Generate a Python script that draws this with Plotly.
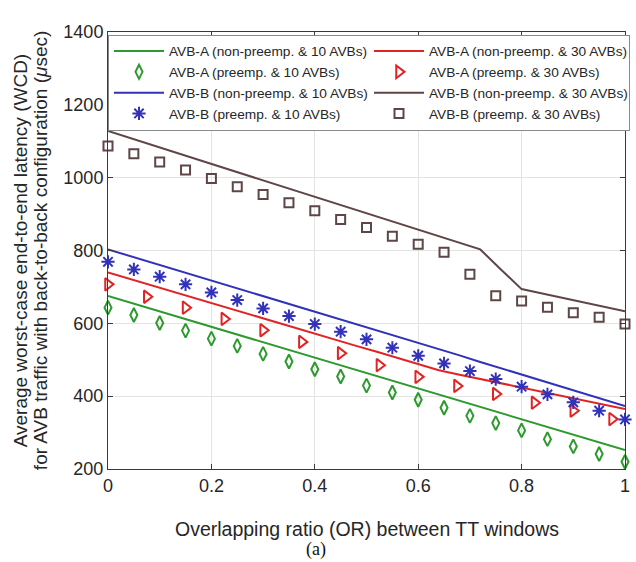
import plotly.graph_objects as go

# ---- data ----
LINE_X = [0.00, 0.04, 0.08, 0.12, 0.16, 0.20, 0.24, 0.28, 0.32, 0.36, 0.40, 0.44, 0.48,
          0.52, 0.56, 0.60, 0.64, 0.68, 0.72, 0.76, 0.80, 0.84, 0.88, 0.92, 0.96, 1.00]
A10_NONPRE = [675, 658, 641, 624, 607, 590, 573, 556, 539, 522, 505, 488, 472,
              455, 438, 421, 404, 387, 370, 353, 336, 319, 302, 286, 269, 252]
A30_NONPRE = [740, 723, 706, 690, 673, 656, 639, 622, 606, 589, 572, 555, 538,
              522, 505, 488, 471, 459, 447, 436, 424, 412, 400, 389, 377, 365]
B10_NONPRE = [803, 786, 769, 752, 735, 718, 701, 684, 666, 649, 632, 615, 598,
              580, 563, 546, 529, 512, 494, 477, 460, 443, 425, 408, 391, 373]
B30_NONPRE = [1128, 1110, 1092, 1074, 1056, 1038, 1020, 1002, 984, 966, 948, 930, 911,
              893, 875, 857, 839, 821, 803, 748, 694, 682, 670, 657, 645, 633]

MARK_X = [0.00, 0.05, 0.10, 0.15, 0.20, 0.25, 0.30, 0.35, 0.40, 0.45, 0.50,
          0.55, 0.60, 0.65, 0.70, 0.75, 0.80, 0.85, 0.90, 0.95, 1.00]
A10_PRE = [643, 623, 601, 580, 558, 538, 516, 495, 474, 454, 429,
           410, 390, 368, 346, 326, 306, 282, 262, 241, 220]
B10_PRE = [769, 748, 728, 707, 685, 664, 641, 620, 598, 577, 556,
           533, 511, 490, 469, 447, 426, 405, 383, 360, 336]
B30_PRE = [1087, 1066, 1043, 1021, 998, 975, 954, 931, 909, 885, 863,
           839, 817, 795, 735, 676, 661, 644, 629, 617, 598]

A30_X = [0.000, 0.075, 0.150, 0.225, 0.300, 0.375, 0.450,
         0.525, 0.600, 0.675, 0.750, 0.825, 0.900, 0.975]
A30_PRE = [707, 673, 643, 612, 581, 549, 518, 485, 453, 428, 406, 382, 360, 337]

X_TICKS = [0, 0.2, 0.4, 0.6, 0.8, 1]
Y_TICKS = [200, 400, 600, 800, 1000, 1200, 1400]

GREEN = "#2e9a2e"
RED = "#e02424"
BLUE = "#3232b8"
BROWN = "#5e4646"

FONT = "Liberation Sans, Arial, sans-serif"

fig = go.Figure()

# order chosen so the horizontal legend fills two columns like the reference
fig.add_trace(go.Scatter(x=LINE_X, y=A10_NONPRE, mode="lines",
                         line=dict(color=GREEN, width=2),
                         name="AVB-A (non-preemp. & 10 AVBs)"))
fig.add_trace(go.Scatter(x=LINE_X, y=A30_NONPRE, mode="lines",
                         line=dict(color=RED, width=2),
                         name="AVB-A (non-preemp. & 30 AVBs)"))
fig.add_trace(go.Scatter(x=MARK_X, y=A10_PRE, mode="markers", cliponaxis=False,
                         marker=dict(symbol="diamond-tall-open", size=10, color=GREEN,
                                     line=dict(color=GREEN, width=2)),
                         name="AVB-A (preemp. & 10 AVBs)"))
fig.add_trace(go.Scatter(x=A30_X, y=A30_PRE, mode="markers", cliponaxis=False,
                         marker=dict(symbol="triangle-right-open", size=11, color=RED,
                                     line=dict(color=RED, width=2)),
                         name="AVB-A (preemp. & 30 AVBs)"))
fig.add_trace(go.Scatter(x=LINE_X, y=B10_NONPRE, mode="lines",
                         line=dict(color=BLUE, width=2),
                         name="AVB-B (non-preemp. & 10 AVBs)"))
fig.add_trace(go.Scatter(x=LINE_X, y=B30_NONPRE, mode="lines",
                         line=dict(color=BROWN, width=2),
                         name="AVB-B (non-preemp. & 30 AVBs)"))
fig.add_trace(go.Scatter(x=MARK_X, y=B10_PRE, mode="markers", cliponaxis=False,
                         marker=dict(symbol="asterisk-open", size=11, color=BLUE,
                                     line=dict(color=BLUE, width=2)),
                         name="AVB-B (preemp. & 10 AVBs)"))
fig.add_trace(go.Scatter(x=MARK_X, y=B30_PRE, mode="markers", cliponaxis=False,
                         marker=dict(symbol="square-open", size=9, color=BROWN,
                                     line=dict(color=BROWN, width=2)),
                         name="AVB-B (preemp. & 30 AVBs)"))

axis_common = dict(showline=True, linecolor="#3a3a3a", linewidth=1, mirror="ticks",
                   ticks="inside", ticklen=5, tickcolor="#3a3a3a",
                   showgrid=True, gridcolor="#e3e3e3", gridwidth=1, zeroline=False,
                   tickfont=dict(family=FONT, size=18, color="#262626"))

fig.update_xaxes(range=[0, 1], tickvals=X_TICKS, ticktext=[str(v) for v in X_TICKS],
                 **axis_common)
fig.update_yaxes(range=[200, 1400], tickvals=Y_TICKS, **axis_common)

fig.update_layout(
    width=636, height=562,
    margin=dict(l=108, r=6, t=32, b=93, pad=0),
    plot_bgcolor="white", paper_bgcolor="white",
    font=dict(family=FONT, color="#262626"),
    legend=dict(orientation="h", x=0.0, y=0.994, xanchor="left", yanchor="top",
                entrywidth=195, entrywidthmode="pixels", itemwidth=50,
                bgcolor="white", bordercolor="#8a8a8a", borderwidth=1,
                font=dict(family=FONT, size=13.7, color="#262626")),
    annotations=[
        dict(text="Average worst-case end-to-end latency (WCD)", xref="paper", yref="paper",
             x=-88 / 522, y=0.5, xanchor="center", yanchor="middle", textangle=-90,
             showarrow=False, font=dict(family=FONT, size=19, color="#262626")),
        dict(text="for AVB traffic with back-to-back configuration (<i>μ</i>sec)",
             xref="paper", yref="paper",
             x=-68 / 522, y=0.5, xanchor="center", yanchor="middle", textangle=-90,
             showarrow=False, font=dict(family=FONT, size=19, color="#262626")),
        dict(text="Overlapping ratio (OR) between TT windows", xref="paper", yref="paper",
             x=0.5, y=-60 / 437, xanchor="center", yanchor="middle", showarrow=False,
             font=dict(family=FONT, size=19.5, color="#262626")),
        dict(text="(a)", xref="paper", yref="paper",
             x=(318 - 108) / 522, y=-80 / 437, xanchor="center", yanchor="middle",
             showarrow=False,
             font=dict(family="Liberation Serif, Times New Roman, serif", size=18,
                       color="#111111")),
    ],
)

fig.write_html("out.html")
